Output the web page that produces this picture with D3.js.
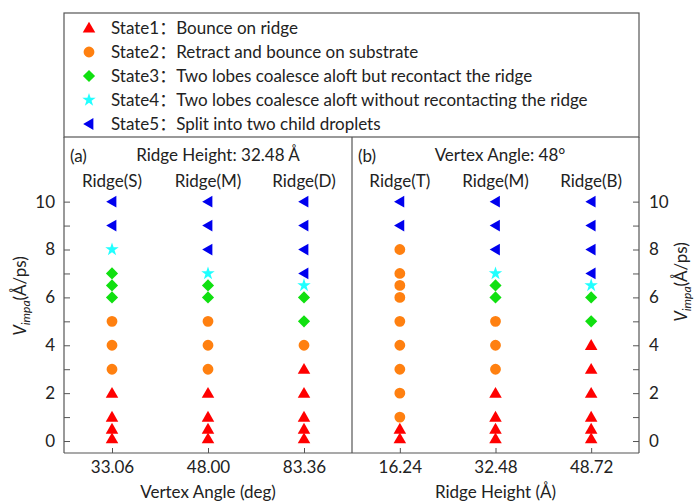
<!DOCTYPE html>
<html>
<head>
<meta charset="utf-8">
<script src="https://cdn.jsdelivr.net/npm/d3@7"></script>
<style>
  html, body { margin: 0; padding: 0; background: #fff; }
  text { font-family: Lato, "Noto Sans CJK SC", "Open Sans", sans-serif; fill: #222; }
</style>
</head>
<body>
<svg id="chart" width="695" height="503"></svg>
<script>
// Impact velocities sampled in every column (Å/ps)
const velocity = [0.1, 0.5, 1, 2, 3, 4, 5, 6, 6.5, 7, 8, 9, 10];

// Panel (a): ridge height fixed at 32.48 Å, vertex angle varies
const ridgesA = ["Ridge(S)", "Ridge(M)", "Ridge(D)"];
const anglesA = ["33.06", "48.00", "83.36"];
const statesS = [1, 1, 1, 1, 2, 2, 2, 3, 3, 3, 4, 5, 5];
const statesMa = [1, 1, 1, 1, 2, 2, 2, 3, 3, 4, 5, 5, 5];
const statesD = [1, 1, 1, 1, 1, 2, 3, 3, 4, 5, 5, 5, 5];

// Panel (b): vertex angle fixed at 48°, ridge height varies
const ridgesB = ["Ridge(T)", "Ridge(M)", "Ridge(B)"];
const heightsB = ["16.24", "32.48", "48.72"];
const statesT = [1, 1, 2, 2, 2, 2, 2, 2, 2, 2, 2, 5, 5];
const statesMb = [1, 1, 1, 1, 2, 2, 2, 3, 3, 4, 5, 5, 5];
const statesB = [1, 1, 1, 1, 1, 1, 3, 3, 4, 5, 5, 5, 5];

// Legend entries
const stateLabels = [
  "State1：Bounce on ridge",
  "State2：Retract and bounce on substrate",
  "State3：Two lobes coalesce aloft but recontact the ridge",
  "State4：Two lobes coalesce aloft without recontacting the ridge",
  "State5：Split into two child droplets"
];
const stateColors = ["#ff0000", "#ff8010", "#10e010", "#20ffff", "#0000ee"];

const yTicks = [0, 1, 2, 3, 4, 5, 6, 7, 8, 9, 10];

const svg = d3.select("#chart");
const L = 64, R = 639, T = 137, B = 453, MID = 352;
const frame = "#555";
const FS = 17;

// Marker shape per state
const symTri = d3.symbol().type(d3.symbolTriangle).size(68);
const symCircle = d3.symbol().type(d3.symbolCircle).size(92);
const symDiamond = d3.symbol().type(d3.symbolSquare).size(74);
const symStar = d3.symbol().type(d3.symbolStar).size(56);
const symLeft = d3.symbol().type(d3.symbolTriangle).size(60);
function drawMarker(g, state, x, y) {
  const c = stateColors[state - 1];
  let p;
  if (state === 1) p = g.append("path").attr("d", symTri()).attr("transform", `translate(${x},${y + 1})`);
  else if (state === 2) p = g.append("path").attr("d", symCircle()).attr("transform", `translate(${x},${y})`);
  else if (state === 3) p = g.append("path").attr("d", symDiamond()).attr("transform", `translate(${x},${y}) rotate(45)`);
  else if (state === 4) p = g.append("path").attr("d", symStar()).attr("transform", `translate(${x},${y})`);
  else p = g.append("path").attr("d", symLeft()).attr("transform", `translate(${x + 1},${y}) rotate(-90)`);
  p.attr("fill", c);
}

// Shared vertical scale
const y = d3.scaleLinear().domain([-0.5, 12.7]).range([B, T]);

// Legend box
svg.append("rect").attr("x", L).attr("y", 13).attr("width", R - L).attr("height", T - 13)
  .attr("fill", "none").attr("stroke", frame).attr("stroke-width", 1.2);
const legend = svg.append("g");
stateLabels.forEach((lab, i) => {
  const ly = 28 + i * 24;
  drawMarker(legend, i + 1, 89, ly);
  legend.append("text").attr("x", 111).attr("y", ly).attr("dy", "0.35em")
    .attr("font-size", FS).text(lab);
});

// One panel: categorical x positions, markers per column
function panel(x0, x1, ridges, ticks, columns, tag, title, titleX, xTitle) {
  const x = d3.scalePoint().domain(ridges).range([x0, x1]).padding(0.5);
  const g = svg.append("g");
  ridges.forEach((r, j) => {
    const cx = x(r);
    g.append("text").attr("x", cx).attr("y", 187).attr("text-anchor", "middle")
      .attr("font-size", FS).text(r);
    velocity.forEach((v, k) => drawMarker(g, columns[j][k], cx, y(v)));
  });
  g.append("text").attr("x", x0 + 6).attr("y", 162).attr("font-size", FS).text(tag);
  g.append("text").attr("x", titleX).attr("y", 161).attr("text-anchor", "middle")
    .attr("font-size", FS).text(title);
  // bottom axis with category values
  const xv = d3.scalePoint().domain(ticks).range([x0, x1]).padding(0.5);
  const ax = svg.append("g").attr("transform", `translate(0,${B})`)
    .call(d3.axisBottom(xv).tickSizeInner(-5).tickSizeOuter(0).tickPadding(8));
  ax.select(".domain").remove();
  ax.selectAll("line").attr("stroke", frame);
  ax.selectAll("text").attr("font-size", FS).attr("fill", "#222");
  svg.append("text").attr("x", (x0 + x1) / 2).attr("y", 498).attr("text-anchor", "middle")
    .attr("font-size", FS).text(xTitle);
}

panel(L, MID, ridgesA, anglesA, [statesS, statesMa, statesD],
  "(a)", "Ridge Height: 32.48 Å", 218, "Vertex Angle (deg)");
panel(MID, R, ridgesB, heightsB, [statesT, statesMb, statesB],
  "(b)", "Vertex Angle: 48°", 500, "Ridge Height (Å)");

// Vertical axes, ticks pointing inward, labels on even values
const fmt = d => (d % 2 === 0 ? d : "");
const axL = svg.append("g").attr("transform", `translate(${L},0)`)
  .call(d3.axisLeft(y).tickValues(yTicks).tickFormat(fmt).tickSizeInner(-6).tickSizeOuter(0).tickPadding(9));
const axR = svg.append("g").attr("transform", `translate(${R},0)`)
  .call(d3.axisRight(y).tickValues(yTicks).tickFormat(fmt).tickSizeInner(-6).tickSizeOuter(0).tickPadding(10));
[axL, axR].forEach(a => {
  a.select(".domain").remove();
  a.selectAll("line").attr("stroke", frame);
  a.selectAll("text").attr("font-size", FS).attr("fill", "#222");
});

// Frame lines
const lines = [[L, T, L, B], [R, T, R, B], [L, B, R, B], [MID, T, MID, B]];
lines.forEach(([xa, ya, xb, yb]) => svg.append("line")
  .attr("x1", xa).attr("y1", ya).attr("x2", xb).attr("y2", yb)
  .attr("stroke", frame).attr("stroke-width", 1.2));

// Vertical axis titles: V_impa (Å/ps)
function yTitle(cx, cy) {
  const t = svg.append("text").attr("transform", `translate(${cx},${cy}) rotate(-90)`)
    .attr("text-anchor", "middle").attr("font-size", FS);
  t.append("tspan").attr("font-style", "italic").text("V");
  t.append("tspan").attr("font-style", "italic").attr("font-size", 12).attr("dy", 4).text("impa");
  t.append("tspan").attr("dy", -4).text("(Å/ps)");
}
yTitle(26, 296);
yTitle(687, 282);
</script>
</body>
</html>
